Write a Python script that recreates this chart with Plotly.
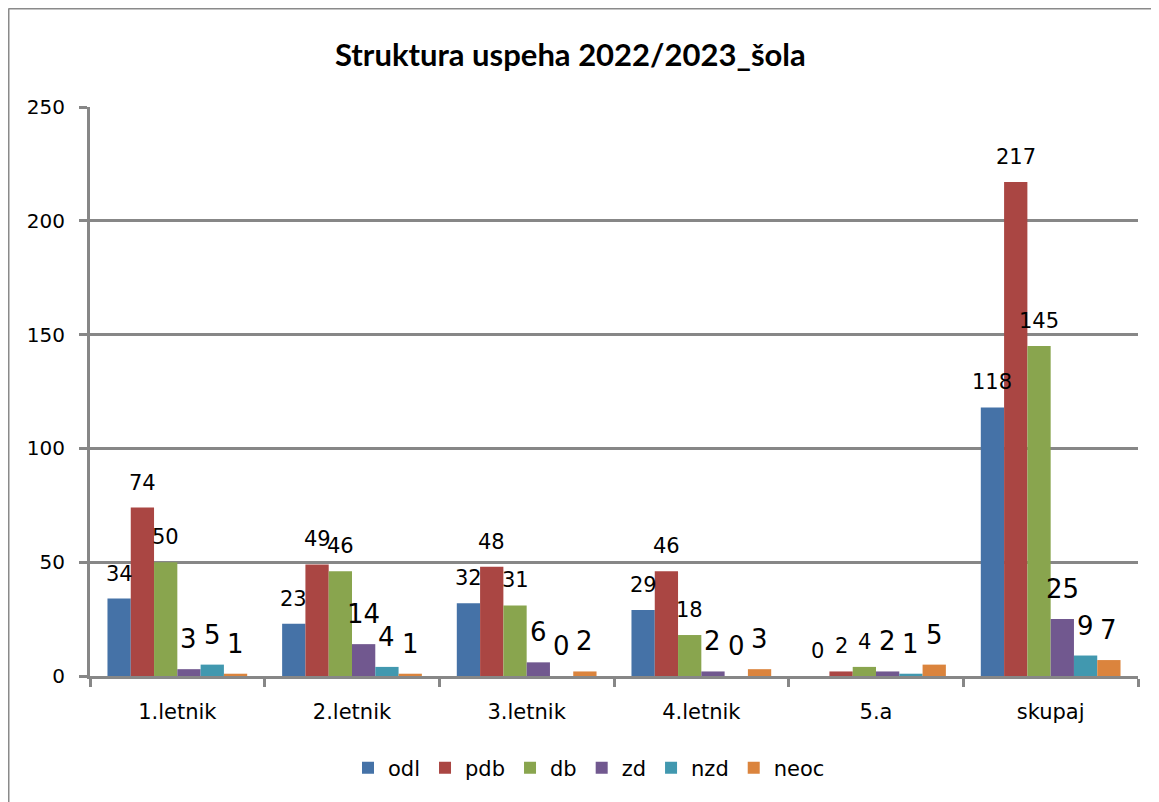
import plotly.graph_objects as go

categories = ["1.letnik", "2.letnik", "3.letnik", "4.letnik", "5.a", "skupaj"]
series_names = ["odl", "pdb", "db", "zd", "nzd", "neoc"]
odl = [34, 23, 32, 29, 0, 118]
pdb = [74, 49, 48, 46, 2, 217]
db = [50, 46, 31, 18, 4, 145]
zd = [3, 14, 6, 2, 2, 25]
nzd = [5, 4, 0, 0, 1, 9]
neoc = [1, 1, 2, 3, 5, 7]
y_ticks = [0, 50, 100, 150, 200, 250]

series_values = [odl, pdb, db, zd, nzd, neoc]
colors = ["#4572A7", "#AA4643", "#89A54E", "#71588F", "#4198AF", "#DB843D"]

# page has an 8px body margin, so the figure is offset by OFF
OFF = 8
W, H = 1159 - OFF, 802 - OFF
ML, MT = 90 - OFF, 107 - OFF
PW, PH = 1048, 569
MR = W - ML - PW
MB = H - MT - PH
BARGAP = 0.2
n_series = len(series_names)
bar_w = PW / len(categories) * (1 - BARGAP) / n_series

GRID = "#878787"
FONT = "DejaVu Sans"


def px_x(p):
    return (p - OFF - ML) / PW


def px_y(p):
    return (MT + PH - (p - OFF)) / PH


fig = go.Figure()
for name, vals, col in zip(series_names, series_values, colors):
    fig.add_trace(go.Bar(name=name, x=categories, y=vals,
                         marker=dict(color=col, line=dict(width=0))))

# data labels
annotations = []
for i, (name, vals) in enumerate(zip(series_names, series_values)):
    big = i >= 3
    for c, v in zip(categories, vals):
        annotations.append(dict(
            x=c, y=v, xref="x", yref="y", text=str(v), showarrow=False,
            xanchor="center", yanchor="middle",
            xshift=(i - (n_series - 1) / 2) * bar_w,
            yshift=30 if big else 25,
            font=dict(family=FONT, size=26 if big else 21, color="black")))

# title
annotations.append(dict(
    x=px_x(570), y=px_y(54), xref="paper", yref="paper",
    text="<b>Struktura uspeha 2022/2023_šola</b>", showarrow=False,
    xanchor="center", yanchor="middle",
    font=dict(family="Lato", size=31, color="black")))

shapes = [
    dict(type="line", xref="paper", yref="paper",
         x0=px_x(8.5), x1=px_x(8.5), y0=px_y(8.5), y1=px_y(802 + 10),
         line=dict(color="#8a8a8a", width=2)),
    dict(type="line", xref="paper", yref="paper",
         x0=px_x(8.5), x1=px_x(1159 + 10), y0=px_y(8.5), y1=px_y(8.5),
         line=dict(color="#8a8a8a", width=2)),
]

fig.update_layout(
    width=W, height=H,
    margin=dict(l=ML, r=MR, t=MT, b=MB, autoexpand=False),
    paper_bgcolor="white", plot_bgcolor="white",
    barmode="group", bargap=BARGAP, bargroupgap=0,
    font=dict(family=FONT, color="black"),
    showlegend=True,
    legend=dict(orientation="h", x=px_x(589), y=px_y(768),
                xanchor="center", yanchor="middle",
                font=dict(family=FONT, size=21, color="black"),
                bgcolor="rgba(0,0,0,0)"),
    annotations=annotations,
    shapes=shapes,
    xaxis=dict(type="category", showgrid=False, showline=True,
               linecolor=GRID, linewidth=3, ticks="outside",
               tickson="boundaries", ticklen=8, tickwidth=3, tickcolor=GRID,
               tickfont=dict(family=FONT, size=21, color="black"),
               ticklabelstandoff=15),
    yaxis=dict(range=[0, 250], tickvals=y_ticks, showgrid=True,
               gridcolor=GRID, gridwidth=3, zeroline=False,
               showline=True, linecolor=GRID, linewidth=3,
               ticks="outside", ticklen=8, tickwidth=3, tickcolor=GRID,
               tickfont=dict(family=FONT, size=20, color="black"),
               ticklabelstandoff=10),
)

fig.write_html("out.html")
